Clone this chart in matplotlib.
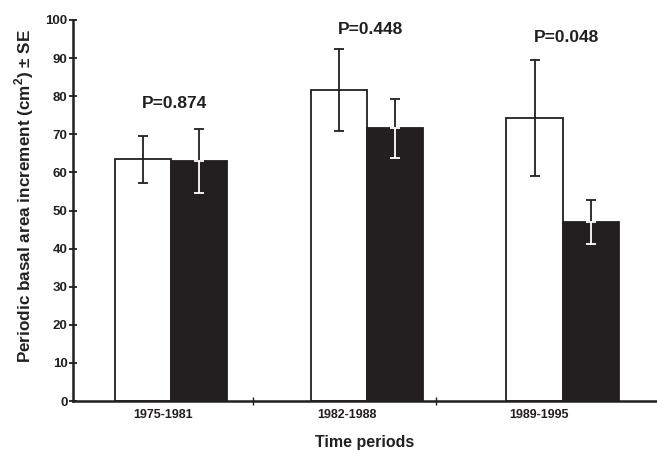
import matplotlib
matplotlib.use("Agg")
import matplotlib.pyplot as plt
import numpy as np

periods = ["1975-1981", "1982-1988", "1989-1995"]
white_vals = [63.4, 81.6, 74.3]
white_err = [6.1, 10.7, 15.3]
black_vals = [63.0, 71.6, 47.0]
black_err = [8.5, 7.7, 5.8]
p_labels = ["P=0.874", "P=0.448", "P=0.048"]
p_ypos = [78.0, 97.4, 95.3]

plt.rcParams['font.family'] = ['Liberation Sans', 'DejaVu Sans']
plt.rcParams['font.weight'] = 'bold'
plt.rcParams['mathtext.fontset'] = 'custom'
plt.rcParams['mathtext.rm'] = 'Liberation Sans:bold'
plt.rcParams['mathtext.bf'] = 'Liberation Sans:bold'

fig = plt.figure(figsize=(6.57, 4.5), dpi=100)
ax = fig.add_axes([73/657, 1 - 401/450, 1 - 73/657, (401 - 20)/450])

x = np.arange(len(periods))
w = 0.288
dark = "#231f20"

ax.bar(x - w/2, white_vals, width=w, color="white", edgecolor=dark, linewidth=1.3, zorder=2)
ax.bar(x + w/2, black_vals, width=w, color=dark, edgecolor=dark, linewidth=1.3, zorder=2)

ax.errorbar(x - w/2, white_vals, yerr=white_err, fmt="none", ecolor=dark,
            elinewidth=1.3, capsize=3.5, capthick=1.3, zorder=3)
ax.errorbar(x + w/2, black_vals, yerr=[np.zeros(3), black_err], fmt="none", ecolor=dark,
            elinewidth=1.3, capsize=3.5, capthick=1.3, zorder=3)
ax.errorbar(x + w/2, black_vals, yerr=[black_err, np.zeros(3)], fmt="none", ecolor="white",
            elinewidth=1.3, capsize=3.5, capthick=1.3, zorder=3)

for xi, lab, yp in zip(x, p_labels, p_ypos):
    ax.text(xi + 0.02, yp, lab, ha="center", va="center", fontsize=12.5,
            fontweight="bold", color=dark, clip_on=False)

ax.set_xlim(-0.5, 2.48)
ax.set_ylim(0, 100)
ax.set_yticks(np.arange(0, 101, 10))
ax.tick_params(axis="y", direction="inout", length=6, width=1.3, labelsize=9.5, pad=1, colors=dark)

label_pos = [-0.04, 0.90, 1.88]
ax.set_xticks(label_pos)
ax.set_xticklabels(periods, fontsize=9, fontweight="bold", color=dark)
ax.tick_params(axis="x", length=0, pad=6)
ax.set_xticks([0.42, 1.35], minor=True)
ax.tick_params(axis="x", which="minor", direction="inout", length=6, width=1.0, colors=dark)

for s in ["top", "right"]:
    ax.spines[s].set_visible(False)
for s in ["left", "bottom"]:
    ax.spines[s].set_linewidth(1.8)
    ax.spines[s].set_color(dark)

ax.set_xlabel("Time periods", fontsize=11.5, fontweight="bold", color=dark, labelpad=10)
ax.set_ylabel("Periodic basal area increment (cm$^{2}$) \u00b1 SE",
              fontsize=12.3, fontweight="bold", color=dark)
ax.yaxis.set_label_coords(-0.063, 0.537)

fig.savefig("out.png", dpi=100)
